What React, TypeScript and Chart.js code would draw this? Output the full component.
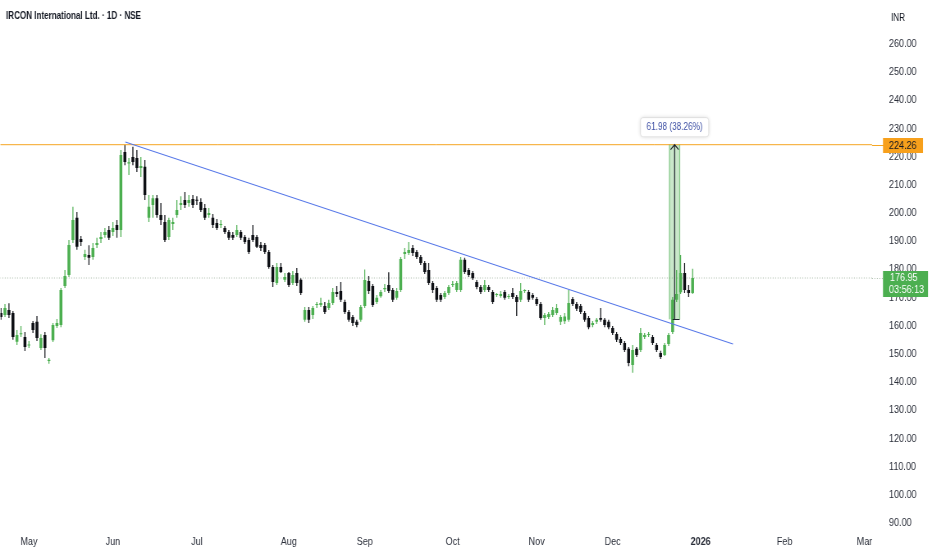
import React, { useEffect, useRef } from 'react';
import { Chart, registerables } from 'chart.js';

Chart.register(...registerables);

// The canvas is drawn wider and shown at 932px, which narrows all glyphs like the reference.
const CANVAS_W = 1136;
const CANVAS_H = 550;
const VIEW_W = 932;
const S = VIEW_W / CANVAS_W;
const X = (cssX: number) => cssX / S;

const FONT = "'Liberation Sans', Arial, sans-serif";
const GREEN = '#4caf50';
const BLACK = '#0d0f14';
const TEXT = '#2a2e39';

const TITLE = 'IRCON International Ltd. · 1D · NSE';
const CURRENCY = 'INR';

// Daily OHLC, one value per trading bar (22 Apr 2025 onwards)
const opens = [
  164.5, 163.8, 165.6, 164.5, 154.3, 157.0, 156.0, 153.0, 161.0, 161.4,
  152.1, 156.7, 147.5, 154.9, 159.9, 160.3, 174.1, 178.0, 190.4, 198.3,
  190.8, 184.4, 185.1, 184.4, 188.7, 190.8, 192.2, 194.0, 193.3, 195.8,
  194.0, 221.7, 217.6, 219.9, 219.5, 216.0, 216.4, 198.3, 202.9, 205.3,
  199.3, 196.8, 191.5, 196.1, 199.3, 202.9, 204.6, 203.6, 205.0, 204.6,
  203.9, 201.8, 199.3, 198.3, 196.5, 195.8, 194.7, 193.3, 192.2, 192.2,
  193.3, 191.5, 190.4, 192.2, 191.5, 188.7, 188.7, 186.2, 180.9, 175.2,
  180.9, 176.3, 178.7, 175.2, 178.7, 176.3, 162.1, 165.6, 163.8, 167.4,
  167.4, 167.0, 166.3, 168.1, 172.0, 172.3, 168.4, 164.9, 163.1, 161.4,
  162.1, 167.0, 175.9, 174.1, 168.4, 170.5, 173.0, 174.5, 172.7, 169.9,
  172.7, 185.5, 185.8, 187.6, 186.2, 184.4, 182.3, 179.8, 175.2, 173.4,
  170.9, 170.2, 171.6, 174.5, 172.7, 172.7, 183.4, 179.8, 178.7, 175.5,
  173.8, 172.7, 173.8, 172.0, 170.9, 170.6, 172.0, 170.2, 171.6, 170.2,
  169.2, 172.3, 172.0, 170.9, 169.5, 167.7, 162.8, 163.1, 163.8, 164.5,
  161.4, 161.6, 162.1, 169.5, 167.7, 167.0, 164.5, 162.8, 160.3, 161.4,
  162.8, 162.1, 161.4, 159.2, 157.1, 155.3, 153.9, 151.8, 146.1, 151.8,
  151.4, 156.0, 156.7, 156.0, 153.2, 150.3, 149.6, 153.5, 157.8, 169.2,
  171.9, 178.7, 172.7, 171.6,
];
const highs = [
  166.3, 167.7, 168.0, 165.2, 158.5, 159.9, 157.8, 154.6, 161.7, 163.5,
  157.0, 157.8, 148.6, 161.0, 162.4, 173.4, 179.8, 190.4, 202.2, 200.4,
  191.9, 187.0, 188.6, 189.4, 191.2, 193.3, 194.7, 195.4, 196.8, 197.5,
  222.4, 224.26, 219.5, 223.5, 222.4, 219.9, 218.8, 206.4, 206.4, 206.4,
  203.6, 199.3, 198.3, 198.3, 204.6, 206.0, 207.5, 206.4, 206.4, 206.0,
  205.3, 203.2, 201.8, 199.7, 197.9, 197.5, 195.4, 194.0, 193.3, 195.8,
  194.0, 192.2, 191.2, 195.8, 192.2, 189.7, 189.4, 186.9, 181.6, 182.3,
  182.3, 178.7, 179.1, 179.4, 180.5, 176.9, 166.7, 166.7, 167.0, 168.4,
  169.9, 168.4, 169.2, 173.4, 174.1, 175.5, 169.2, 165.6, 163.8, 162.1,
  167.4, 180.0, 177.7, 174.8, 170.9, 172.7, 174.8, 179.0, 173.4, 173.4,
  184.4, 187.6, 189.7, 188.7, 186.9, 185.1, 183.0, 182.3, 175.9, 174.1,
  171.6, 172.3, 174.5, 175.9, 175.9, 184.4, 184.1, 180.5, 179.4, 176.2,
  174.5, 176.2, 174.5, 172.7, 171.6, 172.3, 172.7, 171.3, 173.4, 170.9,
  175.2, 173.0, 172.7, 171.6, 170.2, 168.4, 164.5, 164.9, 166.7, 167.7,
  163.8, 164.5, 172.7, 170.2, 168.4, 167.7, 165.2, 163.5, 161.7, 162.8,
  166.3, 162.8, 162.1, 159.9, 157.8, 156.0, 154.6, 152.5, 153.2, 152.5,
  159.2, 157.4, 157.8, 156.7, 153.9, 151.1, 153.9, 157.4, 170.2, 179.8,
  185.1, 182.3, 174.5, 180.2,
];
const lows = [
  162.1, 163.1, 162.8, 155.0, 153.2, 156.0, 151.0, 152.1, 157.4, 154.6,
  151.4, 148.6, 146.5, 154.2, 159.2, 159.5, 173.4, 177.3, 189.4, 187.0,
  188.3, 183.3, 181.6, 183.4, 187.6, 189.4, 191.2, 190.4, 191.9, 191.2,
  191.5, 217.0, 213.5, 217.0, 214.6, 212.8, 204.6, 196.8, 198.3, 198.3,
  195.8, 189.7, 190.4, 194.0, 198.3, 201.1, 201.8, 202.2, 201.8, 202.9,
  200.4, 197.5, 198.3, 194.7, 194.0, 194.7, 192.6, 190.4, 190.4, 191.5,
  190.4, 189.0, 185.5, 189.7, 187.6, 186.5, 185.5, 180.2, 173.8, 174.5,
  178.7, 175.5, 173.8, 174.5, 174.1, 170.9, 161.4, 161.0, 162.4, 166.3,
  166.7, 164.2, 165.6, 167.4, 170.2, 168.4, 164.2, 161.4, 159.9, 159.5,
  161.4, 166.3, 171.3, 166.7, 167.7, 169.9, 172.0, 171.6, 168.4, 169.2,
  172.0, 183.7, 185.1, 184.8, 183.7, 181.6, 178.4, 174.5, 171.6, 168.4,
  168.4, 169.5, 170.9, 173.8, 172.0, 172.0, 178.4, 177.3, 176.2, 173.0,
  171.3, 172.0, 172.0, 167.7, 170.2, 169.9, 169.2, 169.5, 169.5, 163.5,
  168.4, 171.6, 168.4, 169.2, 167.0, 162.1, 160.3, 162.4, 163.1, 163.8,
  160.3, 160.6, 161.4, 167.0, 165.2, 164.2, 161.4, 158.8, 159.5, 160.6,
  161.4, 159.5, 158.8, 156.7, 154.2, 153.2, 150.7, 145.6, 143.3, 148.9,
  150.7, 155.3, 156.0, 153.2, 150.7, 148.2, 149.3, 152.8, 157.1, 168.4,
  171.3, 171.6, 170.2, 171.3,
];
const closes = [
  163.1, 166.3, 163.8, 156.0, 156.7, 157.2, 152.5, 153.3, 158.5, 155.7,
  155.7, 152.1, 147.9, 160.3, 161.0, 172.7, 177.7, 188.7, 197.5, 188.0,
  189.7, 185.5, 184.1, 187.6, 189.4, 191.5, 193.3, 191.2, 194.7, 194.0,
  220.6, 218.1, 218.0, 218.1, 216.0, 216.7, 206.4, 202.2, 205.3, 199.3,
  197.5, 190.4, 197.5, 196.8, 201.1, 203.6, 202.9, 204.6, 202.9, 204.4,
  201.1, 198.3, 200.0, 195.8, 194.7, 196.1, 193.3, 191.2, 191.2, 194.0,
  191.2, 189.7, 186.2, 190.4, 188.0, 187.6, 186.2, 180.9, 175.5, 180.9,
  179.1, 177.3, 174.5, 178.0, 175.2, 171.6, 165.6, 162.1, 166.3, 167.7,
  168.1, 164.9, 168.1, 172.0, 171.3, 169.2, 164.9, 162.1, 161.0, 160.3,
  166.7, 176.2, 172.3, 167.4, 169.9, 172.0, 173.4, 172.3, 169.2, 172.3,
  183.7, 186.2, 186.9, 185.8, 184.4, 182.3, 179.1, 175.2, 172.7, 169.2,
  169.2, 171.6, 173.8, 174.8, 175.2, 183.4, 179.1, 178.0, 176.9, 173.8,
  172.0, 174.5, 172.7, 168.4, 171.1, 171.3, 169.9, 170.6, 170.2, 168.4,
  172.3, 172.5, 169.2, 169.9, 167.7, 162.8, 163.8, 164.2, 165.6, 166.3,
  163.1, 163.3, 168.1, 167.7, 166.0, 164.9, 162.1, 159.5, 161.0, 162.1,
  162.1, 160.3, 159.5, 157.4, 155.0, 153.9, 151.4, 146.8, 151.4, 149.6,
  157.4, 156.7, 156.9, 153.9, 151.4, 148.9, 153.2, 156.7, 169.2, 171.3,
  178.7, 172.7, 171.6, 176.95,
];

// Time axis: bar index where each month starts, and its label
const monthTickIndex = [7, 28, 49, 72, 91, 113, 134, 153, 175, 196, 216];
const monthTickLabels = ['May', 'Jun', 'Jul', 'Aug', 'Sep', 'Oct', 'Nov', 'Dec', '2026', 'Feb', 'Mar'];
const boldTickIndex = 175;

// Price axis ticks
const priceTicks = [90, 100, 110, 120, 130, 140, 150, 160, 170, 180, 190, 200, 210, 220, 230, 240, 250, 260];

// Drawings
const resistanceLevel = 224.26;
const lastPrice = 176.95;
const countdown = '03:56:13';
const trendIdx = [31.1, 183.1];
const trendPrice = [225.2, 153.5];
const measureBoxIdx = [167.1, 169.9];
const measureArrowIdx = 168.5;
const measurePrice = [162.28, 224.26];
const measureLabel = '61.98 (38.26%)';

export default function App() {
  const ref = useRef<HTMLCanvasElement | null>(null);

  useEffect(() => {
    document.body.style.margin = '0';
    const canvas = ref.current;
    if (!canvas) return;
    const n = opens.length;
    const idx = Array.from({ length: n }, (_, i) => i);
    const colors = idx.map((i) => (closes[i] >= opens[i] ? GREEN : BLACK));

    const overlay = {
      id: 'overlay',
      afterDatasetsDraw(chart: any) {
        const ctx = chart.ctx as CanvasRenderingContext2D;
        const xs = chart.scales.x;
        const ys = chart.scales.y;
        const ca = chart.chartArea;
        ctx.save();
        ctx.beginPath();
        ctx.rect(ca.left, ca.top, ca.right - ca.left, ca.bottom - ca.top);
        ctx.clip();
        // measurement box
        const x1 = xs.getPixelForValue(measureBoxIdx[0]);
        const x2 = xs.getPixelForValue(measureBoxIdx[1]);
        const yTop = ys.getPixelForValue(measurePrice[1]);
        const yBot = ys.getPixelForValue(measurePrice[0]);
        ctx.fillStyle = 'rgba(76,175,80,0.30)';
        ctx.fillRect(x1, yTop, x2 - x1, yBot - yTop);
        ctx.strokeStyle = 'rgba(76,175,80,0.55)';
        ctx.lineWidth = 1.2;
        ctx.beginPath();
        ctx.moveTo(x1 + 0.6, yTop);
        ctx.lineTo(x1 + 0.6, yBot);
        ctx.moveTo(x2 - 0.6, yTop);
        ctx.lineTo(x2 - 0.6, yBot);
        ctx.stroke();
        const xa = xs.getPixelForValue(measureArrowIdx);
        ctx.strokeStyle = '#1e222d';
        ctx.lineWidth = 1.2;
        ctx.beginPath();
        ctx.moveTo(xa, yBot);
        ctx.lineTo(xa, yTop);
        ctx.moveTo(xa - X(4), yTop + 5);
        ctx.lineTo(xa, yTop);
        ctx.lineTo(xa + X(4), yTop + 5);
        ctx.stroke();
        ctx.lineWidth = 1;
        ctx.beginPath();
        ctx.moveTo(xa - X(2), Math.round(yBot) + 0.5);
        ctx.lineTo(xa + X(5), Math.round(yBot) + 0.5);
        ctx.stroke();
        ctx.restore();

        // measurement label
        ctx.save();
        ctx.font = `10px ${FONT}`;
        const tw = ctx.measureText(measureLabel).width;
        const bw = tw + X(12);
        const bh = 19;
        const bx = xa - bw / 2;
        const by = yTop - 27;
        ctx.shadowColor = 'rgba(0,0,0,0.18)';
        ctx.shadowBlur = 4;
        ctx.fillStyle = '#ffffff';
        ctx.beginPath();
        (ctx as any).roundRect ? (ctx as any).roundRect(bx, by, bw, bh, 3) : ctx.rect(bx, by, bw, bh);
        ctx.fill();
        ctx.shadowColor = 'transparent';
        ctx.strokeStyle = 'rgba(0,0,0,0.08)';
        ctx.stroke();
        ctx.fillStyle = '#3f51a5';
        ctx.textAlign = 'center';
        ctx.textBaseline = 'middle';
        ctx.fillText(measureLabel, xa, by + bh / 2 + 0.5);
        ctx.restore();
      },
      afterDraw(chart: any) {
        const ctx = chart.ctx as CanvasRenderingContext2D;
        const ys = chart.scales.y;
        const ca = chart.chartArea;
        ctx.save();
        // extend the two price lines up to their axis labels
        const yr = Math.round(ys.getPixelForValue(resistanceLevel)) + 0.5;
        ctx.strokeStyle = '#f5a623';
        ctx.lineWidth = 1;
        ctx.beginPath();
        ctx.moveTo(ca.right, yr);
        ctx.lineTo(X(884), yr);
        ctx.stroke();
        const yl = ys.getPixelForValue(lastPrice);
        ctx.strokeStyle = 'rgba(110,140,110,0.6)';
        ctx.setLineDash([1, 2]);
        ctx.beginPath();
        ctx.moveTo(ca.right, Math.round(yl) + 0.5);
        ctx.lineTo(X(884), Math.round(yl) + 0.5);
        ctx.stroke();
        ctx.setLineDash([]);
        // resistance label
        ctx.fillStyle = '#f7a01c';
        ctx.fillRect(X(883), yr - 7.5, X(40), 15);
        ctx.font = `11px ${FONT}`;
        ctx.textAlign = 'left';
        ctx.textBaseline = 'middle';
        ctx.fillStyle = '#131722';
        ctx.fillText(resistanceLevel.toFixed(2), X(889), yr + 0.5);
        // last price label
        ctx.fillStyle = GREEN;
        ctx.fillRect(X(883), yl - 7, X(45), 26);
        ctx.fillStyle = '#ffffff';
        ctx.fillText(lastPrice.toFixed(2), X(890), yl);
        ctx.fillText(countdown, X(889), yl + 12);
        // title
        ctx.font = `bold 10px ${FONT}`;
        ctx.fillStyle = '#131722';
        const w = ctx.measureText(TITLE).width;
        ctx.translate(X(6), 16.5);
        ctx.scale(X(135) / w, 1);
        ctx.fillText(TITLE, 0, 0);
        ctx.setTransform(1, 0, 0, 1, 0, 0);
        ctx.font = `10px ${FONT}`;
        ctx.fillStyle = '#131722';
        ctx.fillText(CURRENCY, X(891), 18);
        ctx.restore();
      },
    };

    const chart = new Chart(canvas, {
      type: 'bar',
      data: {
        datasets: [
          {
            type: 'line',
            label: 'trend',
            data: [
              { x: trendIdx[0], y: trendPrice[0] },
              { x: trendIdx[1], y: trendPrice[1] },
            ],
            borderColor: '#5677e8',
            borderWidth: 1.1,
            pointRadius: 0,
            order: 0,
          } as any,
          {
            type: 'line',
            label: 'resistance',
            data: [
              { x: -100, y: resistanceLevel },
              { x: 400, y: resistanceLevel },
            ],
            borderColor: '#f5a623',
            borderWidth: 1,
            pointRadius: 0,
            order: 0,
          } as any,
          {
            type: 'line',
            label: 'last',
            data: [
              { x: -100, y: lastPrice },
              { x: 400, y: lastPrice },
            ],
            borderColor: 'rgba(110,140,110,0.6)',
            borderDash: [1, 2],
            borderWidth: 1,
            pointRadius: 0,
            order: 3,
          } as any,
          {
            type: 'bar',
            label: 'wicks',
            data: idx.map((i) => ({ x: i, y: [lows[i], highs[i]] })),
            backgroundColor: colors,
            borderWidth: 0,
            grouped: false,
            maxBarThickness: X(1),
            order: 2,
          } as any,
          {
            type: 'bar',
            label: 'bodies',
            data: idx.map((i) => ({ x: i, y: [opens[i], closes[i]] })),
            backgroundColor: colors,
            borderWidth: 0,
            grouped: false,
            maxBarThickness: X(3),
            minBarLength: 1,
            order: 1,
          } as any,
        ],
      },
      options: {
        animation: false,
        responsive: false,
        devicePixelRatio: 1,
        events: [],
        layout: { padding: 0 },
        plugins: { legend: { display: false }, tooltip: { enabled: false } },
        scales: {
          x: {
            type: 'linear',
            offset: false,
            min: 0,
            max: 218,
            grid: { display: false, drawTicks: false },
            border: { display: false },
            afterBuildTicks: (scale: any) => {
              scale.ticks = monthTickIndex.map((v) => ({ value: v }));
            },
            afterFit: (scale: any) => {
              scale.height = 15;
            },
            ticks: {
              padding: 0,
              autoSkip: false,
              maxRotation: 0,
              color: TEXT,
              font: (c: any) => ({
                family: FONT,
                size: 11,
                weight: c.tick && c.tick.value === boldTickIndex ? 'bold' : 'normal',
              }),
              callback: (v: any) => {
                const k = monthTickIndex.indexOf(Number(v));
                return k >= 0 ? monthTickLabels[k] : '';
              },
            },
          },
          y: {
            type: 'linear',
            position: 'right',
            min: 85,
            max: 276,
            // hidden tick marks only offset the labels from the plot edge
            grid: { display: false, drawTicks: true, tickLength: X(17) },
            border: { display: false },
            afterBuildTicks: (scale: any) => {
              scale.ticks = priceTicks.map((v) => ({ value: v }));
            },
            afterFit: (scale: any) => {
              scale.width = X(60);
            },
            ticks: {
              padding: 0,
              color: TEXT,
              font: { family: FONT, size: 11 },
              callback: (v: any) => Number(v).toFixed(2),
            },
          },
        },
      } as any,
      plugins: [overlay],
    });

    // calibrate: 260 at y=44, 90 at y=523, bar i at css x = 4i + 0.5
    const ca = chart.chartArea;
    const pyu = (523 - 44) / 170;
    const pxu = X(4);
    const yMax = 260 + (44 - ca.top) / pyu;
    const yMin = 90 - (ca.bottom - 523) / pyu;
    const xMin = (ca.left - X(0.5)) / pxu;
    const xMax = xMin + (ca.right - ca.left) / pxu;
    const sc: any = chart.options.scales;
    sc.y.min = yMin;
    sc.y.max = yMax;
    sc.x.min = xMin;
    sc.x.max = xMax;
    chart.update('none');

    return () => chart.destroy();
  }, []);

  return (
    <div style={{ width: VIEW_W, height: CANVAS_H, background: '#ffffff', overflow: 'hidden' }}>
      <canvas
        ref={ref}
        width={CANVAS_W}
        height={CANVAS_H}
        style={{ display: 'block', width: VIEW_W + 'px', height: CANVAS_H + 'px' }}
      />
    </div>
  );
}
